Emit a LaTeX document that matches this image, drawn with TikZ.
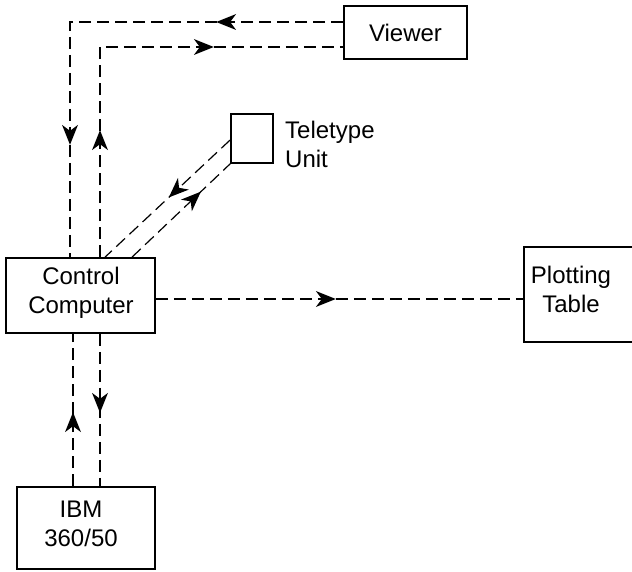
\documentclass[tikz,border=0pt]{standalone}
\usepackage{fontspec}
\setmainfont{Liberation Sans}
\usetikzlibrary{decorations.markings,calc}
\newcommand{\headTip}{\fill[solid] (2pt,0pt) -- (-18pt,8pt) -- (-12pt,0pt) -- (-18pt,-8pt) -- cycle;}
\tikzset{
  box/.style={draw, line width=1.7pt, inner sep=0pt, align=center},
  txt/.style={inner sep=0pt, align=center, font=\fontsize{24}{29}\selectfont},
  conn/.style={line width=1.2pt, dash pattern=on 12pt off 6pt},
  oneArrow/.style={postaction={decorate},
    decoration={markings, mark=at position #1 with {\headTip}}},
  twoArrows/.style 2 args={postaction={decorate},
    decoration={markings, mark=at position #1 with {\headTip},
                          mark=at position #2 with {\headTip}}}
}
\begin{document}
\begin{tikzpicture}[x=1pt,y=-1pt]
\useasboundingbox (0,0) rectangle (632,572);
\clip (0,0) rectangle (632,572);
\fill[white] (0,0) rectangle (632,572);

% boxes
\node[box, minimum width=123pt, minimum height=53pt] (viewer) at (405.5,32.5) {};
\node[txt] (viewertxt) at (405.5,33) {Viewer};
\node[box, minimum width=42pt, minimum height=49pt] (tty) at (252,138.5) {};
\node[txt, anchor=west, align=left] (ttytxt) at (285,144) {Teletype\\Unit};
\node[box, minimum width=149pt, minimum height=75pt] (ctrl) at (80.5,295.5) {};
\node[txt] (ctrltxt) at (81,292.5) {Control\\Computer};
\node[box, minimum width=116pt, minimum height=95pt] (plot) at (582,294.5) {};
\node[txt] (plottxt) at (571,289) {Plotting\\Table};
\node[box, minimum width=138pt, minimum height=82pt] (ibm) at (86,528) {};
\node[txt] (ibmtxt) at (81,523.5) {IBM\\360/50};

% bend points
\coordinate (b1) at (70,22);
\coordinate (b2) at (100,47);

% Viewer -> Control
\draw[conn, twoArrows={125pt}{394pt}]
  (viewer.west |- b1) -- (b1) -- (b1 |- ctrl.north);
% Control -> Viewer
\draw[conn, twoArrows={125pt}{322pt}]
  (b2 |- ctrl.north) -- (b2) -- (viewer.west |- b2);

% Teletype -> Control
\draw[conn, oneArrow={82pt}]
  ([yshift=-1.5pt]tty.west) -- ([xshift=24.5pt]ctrl.north);
% Control -> Teletype
\draw[conn, oneArrow={93pt}]
  ([xshift=51.5pt]ctrl.north) -- (tty.south west);

% Control -> Plotting Table
\draw[conn, oneArrow={178pt}]
  ([yshift=-3.5pt]ctrl.east) -- ([yshift=-3.5pt]ctrl.east -| plot.west);

% IBM -> Control
\draw[conn, oneArrow={72pt}]
  ([xshift=-13pt]ibm.north) -- ([xshift=-13pt]ibm.north |- ctrl.south);
% Control -> IBM
\draw[conn, oneArrow={77pt}]
  ([xshift=19.5pt]ctrl.south) -- ([xshift=19.5pt]ctrl.south |- ibm.north);
\end{tikzpicture}
\end{document}
